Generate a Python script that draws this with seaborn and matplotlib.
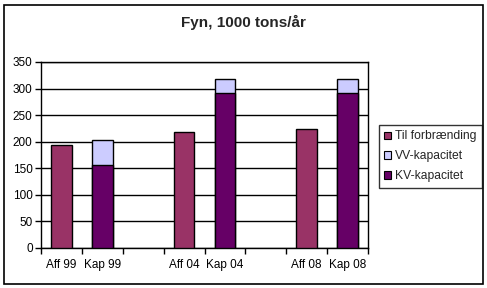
import matplotlib
matplotlib.use("Agg")
import matplotlib.pyplot as plt
import seaborn as sns
import pandas as pd
import numpy as np
from matplotlib.patches import Rectangle, Patch

sns.set_theme(style="white")
plt.rcParams['font.family'] = ['Liberation Sans', 'DejaVu Sans']

# Data
slots = ["Aff 99", "Kap 99", "", "Aff 04", "Kap 04", "", "Aff 08", "Kap 08"]
aff_labels = ["Aff 99", "Aff 04", "Aff 08"]
aff_values = [193, 218, 223]
kap_labels = ["Kap 99", "Kap 04", "Kap 08"]
kv_values = [157, 291, 291]
vv_values = [46, 27, 27]
title = "Fyn, 1000 tons/år"
series_names = ["Til forbrænding", "VV-kapacitet", "KV-kapacitet"]
colors = {"Til forbrænding": "#993366", "VV-kapacitet": "#CCCCFF", "KV-kapacitet": "#660066"}

# unique slot keys for categorical order
order = [s if s else f"gap{i}" for i, s in enumerate(slots)]

df_aff = pd.DataFrame({"slot": aff_labels, "value": aff_values})
df_kv = pd.DataFrame({"slot": kap_labels, "value": kv_values})
df_tot = pd.DataFrame({"slot": kap_labels,
                       "value": np.array(kv_values) + np.array(vv_values)})

fig = plt.figure(figsize=(4.87, 2.88), dpi=100)
ax = fig.add_axes([41/487, 1-248/288, (368-41)/487, (248-62)/288])

kw = dict(x="slot", y="value", order=order, width=0.5, edgecolor="black",
          linewidth=1.0, errorbar=None, ax=ax, zorder=3)
sns.barplot(data=df_aff, color=colors["Til forbrænding"], saturation=1, **kw)
sns.barplot(data=df_tot, color=colors["VV-kapacitet"], saturation=1, **kw)
sns.barplot(data=df_kv, color=colors["KV-kapacitet"], saturation=1, **kw)

ax.set_ylim(0, 350)
ax.set_xlim(-0.5, len(order) - 0.5)
ax.set_yticks(np.arange(0, 351, 50))
ax.yaxis.grid(True, color="black", linewidth=1.0)
ax.set_axisbelow(True)
ax.set_xlabel("")
ax.set_ylabel("")

# ticks at boundaries, labels at centers
ax.set_xticks(np.arange(-0.5, len(order), 1.0))
ax.set_xticklabels([])
ax.set_xticks(np.arange(len(order)), minor=True)
ax.set_xticklabels(slots, minor=True)
ax.tick_params(axis="x", which="major", length=4, width=1, color="black", direction="out", bottom=True)
ax.tick_params(axis="x", which="minor", length=0, pad=8, labelsize=8.5, colors="black")
ax.tick_params(axis="y", which="major", length=4, width=1, color="black", direction="out",
               left=True, labelsize=8.5, labelcolor="black", pad=2)
for s in ax.spines.values():
    s.set_visible(True)
    s.set_color("black")
    s.set_linewidth(1.0)

fig.text(243.5/487, 1-22/288, title, ha="center", va="center", fontsize=11, fontweight="bold")

handles = [Patch(facecolor=colors[n], edgecolor="black", linewidth=0.8) for n in series_names]
leg = fig.legend(handles, series_names, loc="upper left",
                 bbox_to_anchor=(379/487, 1-125/288), frameon=True, fancybox=False,
                 fontsize=8.7, handlelength=0.55, handleheight=0.55, handletextpad=0.3,
                 borderpad=0.45, labelspacing=0.65, borderaxespad=0)
leg.get_frame().set_edgecolor("black")
leg.get_frame().set_linewidth(1.0)

fig.patches.append(Rectangle((4/487, 4.5/288), (483-4)/487, (283.5-4.5)/288, transform=fig.transFigure,
                             fill=False, edgecolor="black", linewidth=1.2))

fig.savefig("out.png", dpi=100)
